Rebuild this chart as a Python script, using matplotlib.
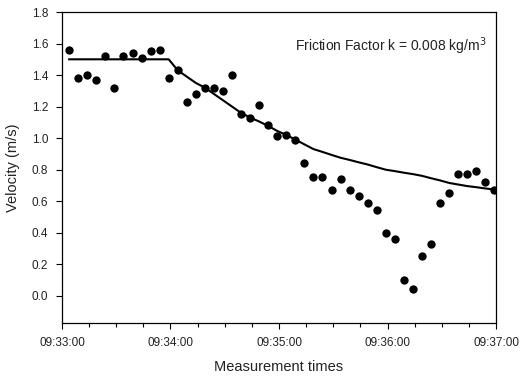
import matplotlib
matplotlib.use('Agg')
import matplotlib.pyplot as plt
import matplotlib.dates as mdates
import pandas as pd

plt.rcParams['font.family'] = ['Liberation Sans', 'DejaVu Sans']

# measurement times (one reading every 5 s)
times = [
    '09:33:04', '09:33:09', '09:33:14', '09:33:19', '09:33:24', '09:33:29',
    '09:33:34', '09:33:39', '09:33:44', '09:33:49', '09:33:54', '09:33:59',
    '09:34:04', '09:34:09', '09:34:14', '09:34:19', '09:34:24', '09:34:29',
    '09:34:34', '09:34:39', '09:34:44', '09:34:49', '09:34:54', '09:34:59',
    '09:35:04', '09:35:09', '09:35:14', '09:35:19', '09:35:24', '09:35:29',
    '09:35:34', '09:35:39', '09:35:44', '09:35:49', '09:35:54', '09:35:59',
    '09:36:04', '09:36:09', '09:36:14', '09:36:19', '09:36:24', '09:36:29',
    '09:36:34', '09:36:39', '09:36:44', '09:36:49', '09:36:54', '09:36:59',
]

# measured velocity (m/s)
measured = [
    1.56, 1.38, 1.40, 1.37, 1.52, 1.32, 1.52, 1.54, 1.51, 1.55, 1.56, 1.38,
    1.43, 1.23, 1.28, 1.32, 1.32, 1.30, 1.40, 1.15, 1.13, 1.21, 1.08, 1.01,
    1.02, 0.99, 0.84, 0.75, 0.75, 0.67, 0.74, 0.67, 0.63, 0.59, 0.54, 0.40,
    0.36, 0.10, 0.04, 0.25, 0.33, 0.59, 0.65, 0.77, 0.77, 0.79, 0.72, 0.67,
]

# simulated velocity with friction factor k = 0.008 kg/m^3
simulated = [
    1.50, 1.50, 1.50, 1.50, 1.50, 1.50, 1.50, 1.50, 1.50, 1.50, 1.50, 1.50,
    1.43, 1.39, 1.35, 1.32, 1.28, 1.24, 1.20, 1.16, 1.13, 1.105, 1.077, 1.045,
    1.02, 0.99, 0.96, 0.93, 0.912, 0.893, 0.875, 0.861, 0.846, 0.832, 0.815, 0.799,
    0.790, 0.780, 0.771, 0.760, 0.745, 0.731, 0.715, 0.705, 0.695, 0.688, 0.680, 0.673,
]

t = pd.to_datetime(['2000-01-01 ' + s for s in times])

fig = plt.figure(figsize=(5.25, 3.77), dpi=100)
ax = fig.add_axes([0.118, 0.143, 0.827, 0.825])

ax.plot(t, simulated, color='black', linewidth=1.5)
ax.plot(t, measured, 'o', color='black', markersize=6, markeredgewidth=0)

ax.set_xlim(pd.Timestamp('2000-01-01 09:33:00'), pd.Timestamp('2000-01-01 09:37:00'))
ax.set_ylim(-0.175, 1.8)
ax.set_yticks([0.0, 0.2, 0.4, 0.6, 0.8, 1.0, 1.2, 1.4, 1.6, 1.8])
ax.yaxis.set_major_formatter(matplotlib.ticker.FormatStrFormatter('%.1f'))
ax.xaxis.set_major_locator(mdates.MinuteLocator())
ax.xaxis.set_minor_locator(mdates.SecondLocator(bysecond=[15, 30, 45]))
ax.xaxis.set_major_formatter(mdates.DateFormatter('%H:%M:%S'))

ax.tick_params(which='both', direction='out', colors='black', labelsize=8.5,
               labelcolor='#222222', width=0.8)
ax.tick_params(which='major', length=4, pad=6)
ax.tick_params(which='minor', length=3)
for spine in ax.spines.values():
    spine.set_linewidth(0.9)

ax.set_xlabel('Measurement times', fontsize=10.5, color='#222222', labelpad=8)
ax.set_ylabel('Velocity (m/s)', fontsize=10.5, color='#222222', labelpad=8)

ax.text(0.978, 0.875, 'Friction Factor k = 0.008 kg/m$^3$', transform=ax.transAxes,
        ha='right', va='baseline', fontsize=10, color='#222222')

fig.savefig('out.png', dpi=100)
